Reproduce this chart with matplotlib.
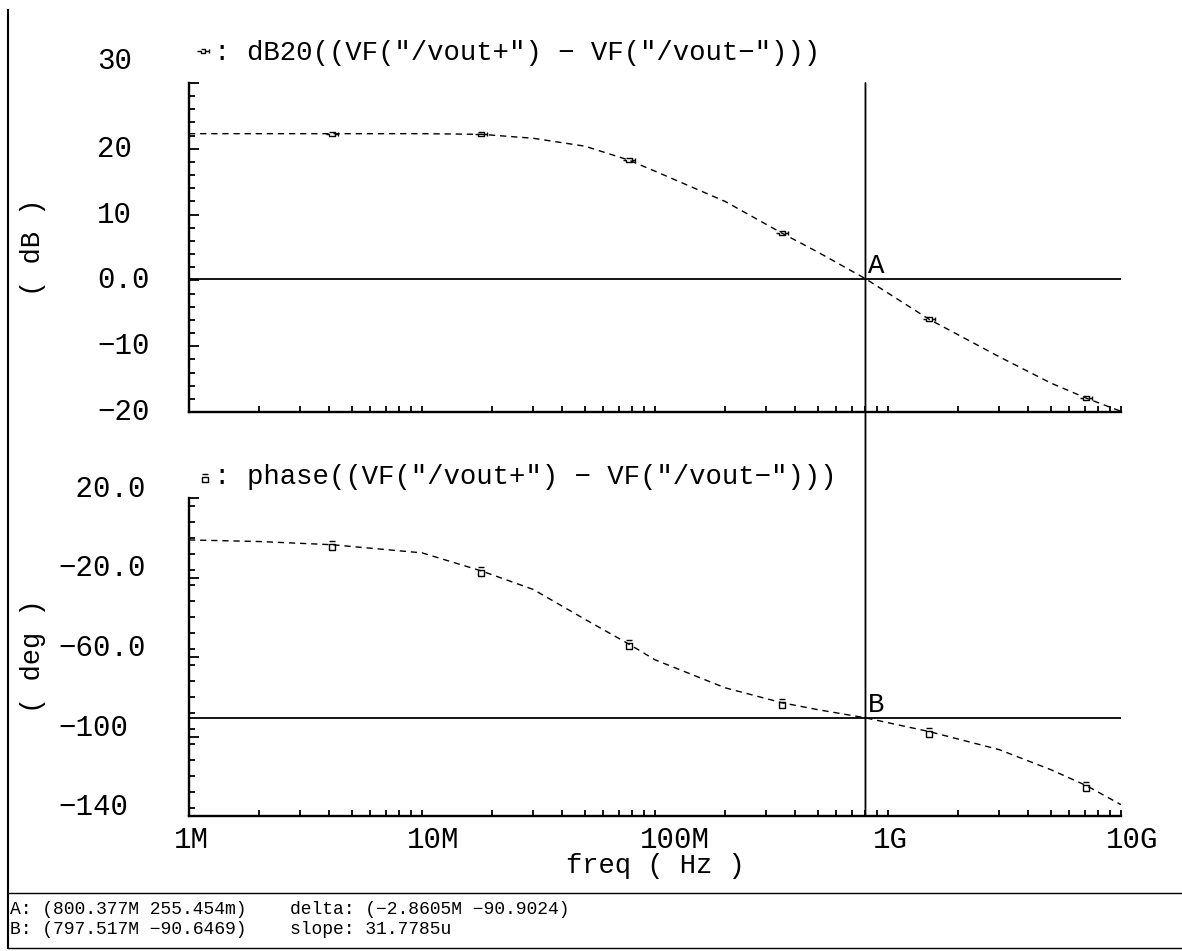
import numpy as np
import matplotlib
matplotlib.use("Agg")
import matplotlib.pyplot as plt
from matplotlib.path import Path
from matplotlib.lines import Line2D
from matplotlib.patches import ConnectionPatch
from matplotlib.ticker import LogLocator, NullFormatter, FixedLocator, MultipleLocator
from matplotlib import transforms

freq = [1e6, 2e6, 4.1e6, 10e6, 18e6, 30e6, 50e6, 77e6, 100e6, 200e6,
        350e6, 500e6, 800e6, 1.5e9, 3e9, 5e9, 7.1e9, 10e9]
mag_db = [22.3, 22.3, 22.3, 22.3, 22.2, 21.6, 20.4, 18.3, 16.6, 12.0,
          7.2, 4.3, 0.26, -5.9, -11.6, -15.6, -17.9, -19.9]
fase = [-1.1, -1.9, -3.5, -7.6, -16.7, -26.0, -41.0, -53.4, -61.4, -75.5,
        -83.0, -86.5, -90.6, -97.5, -106.6, -116.7, -124.7, -134.3]
marcas = [2, 4, 7, 10, 13, 16]   # puntos con simbolo

xticks = [1e6, 1e7, 1e8, 1e9, 1e10]
xtick_labels = ["1M", "10M", "100M", "1G", "10G"]
db_ticks = [30, 20, 10, 0, -10, -20]
db_labels = ["30", "20", "10", "0.0", "-10", "-20"]
deg_ticks = [20, -20, -60, -100, -140]
deg_labels = [" 20.0", "-20.0", "-60.0", "-100", "-140"]

# cursores
cursor_a = (800.377e6, 0.255454)
cursor_b = (797.517e6, -90.6469)
titulo_db = 'dB20((VF("/vout+") - VF("/vout-")))'
titulo_fase = 'phase((VF("/vout+") - VF("/vout-")))'
pie_izq = ["A: (800.377M 255.454m)", "B: (797.517M -90.6469)"]
pie_der = ["delta: (-2.8605M -90.9024)", "slope: 31.7785u"]

W, H = 1182, 951
plt.rcParams['font.family'] = ["Liberation Mono", "DejaVu Sans Mono"]
FS_TIT = 19.7   # titulos
FS_TICK = 21    # numeros de los ejes
FS_LAB = 19.5   # nombres de los ejes


def txt(s):
    # guion como signo menos
    return s.replace("-", "\u2212")


def fx(x):
    return x / W


def fy(y):
    return 1 - y / H


def px(dx, dy):
    # desplazamiento en pixeles (y hacia arriba)
    return transforms.ScaledTranslation(dx / 100, dy / 100, fig.dpi_scale_trans)


# simbolos de cada curva
m_db = Path([(-1.2, 0), (-0.5, 0), (-0.5, 0.45), (0.5, 0.45), (0.5, -0.45), (-0.5, -0.45), (-0.5, 0),
             (0.5, 0), (1.2, 0), (1.2, 0.4), (1.2, -0.4)],
            [1, 2, 1, 2, 2, 2, 2, 1, 2, 1, 2])
m_fase = Path([(-0.5, -0.8), (0.5, -0.8), (0.5, 0.2), (-0.5, 0.2), (-0.5, -0.8), (-0.5, 0.7), (0.5, 0.7)],
              [1, 2, 2, 2, 2, 1, 2])

fig = plt.figure(figsize=(W / 100, H / 100), dpi=100)
ax1 = fig.add_axes([fx(189), fy(412), fx(1121) - fx(189), fy(83) - fy(412)])
ax2 = fig.add_axes([fx(189), fy(816), fx(1121) - fx(189), fy(498) - fy(816)])


def preparar(ax, ylim, ymajor, yminor):
    ax.set_xscale("log")
    ax.set_xlim(1e6, 1e10)
    ax.set_ylim(*ylim)
    for s in ["top", "right"]:
        ax.spines[s].set_visible(False)
    for s in ["left", "bottom"]:
        ax.spines[s].set_linewidth(1.7)
    ax.xaxis.set_major_locator(FixedLocator(xticks))
    ax.xaxis.set_minor_locator(LogLocator(base=10, subs=np.arange(2, 10), numticks=20))
    ax.xaxis.set_major_formatter(NullFormatter())
    ax.xaxis.set_minor_formatter(NullFormatter())
    ax.yaxis.set_major_locator(FixedLocator(ymajor))
    ax.yaxis.set_minor_locator(MultipleLocator(yminor))
    ax.yaxis.set_major_formatter(NullFormatter())
    ax.tick_params(axis="x", which="both", direction="in", length=4, width=1.3, top=False)
    ax.tick_params(axis="y", which="major", direction="in", length=7.5, width=1.3, right=False)
    ax.tick_params(axis="y", which="minor", direction="in", length=4.5, width=1.3, right=False)
    ax.patch.set_alpha(0)


preparar(ax1, (-20, 30), db_ticks, 2)
preparar(ax2, (-140, 20), deg_ticks, 8)

# curvas punteadas
ax1.plot(freq, mag_db, color="black", lw=1.0, dashes=(4.5, 3.5), marker=m_db, markevery=marcas,
         markersize=9, markerfacecolor="none", markeredgecolor="black", markeredgewidth=1.0)
ax2.plot(freq, fase, color="black", lw=1.0, dashes=(4.5, 3.5), marker=m_fase, markevery=marcas,
         markersize=7, markerfacecolor="none", markeredgecolor="black", markeredgewidth=1.0)

# cursores horizontales y vertical compartido
ax1.axhline(cursor_a[1], color="black", lw=1.3)
ax2.axhline(cursor_b[1], color="black", lw=1.3)
cp = ConnectionPatch((cursor_a[0], 30), (cursor_a[0], -140), coordsA="data", coordsB="data",
                     axesA=ax1, axesB=ax2, color="black", lw=1.3)
fig.add_artist(cp)
ax1.text(cursor_a[0], cursor_a[1], "A", fontsize=FS_TIT, ha="left", va="bottom",
         transform=ax1.transData + px(3, 0))
ax2.text(cursor_b[0], cursor_b[1], "B", fontsize=FS_TIT, ha="left", va="bottom",
         transform=ax2.transData + px(3, 0))

# etiquetas de los ejes y
tr1 = transforms.blended_transform_factory(fig.transFigure, ax1.transData)
for v, s in zip(db_ticks, db_labels):
    dy = 22 if v == db_ticks[0] else 0
    ax1.text(fx(97), v, txt(s), fontsize=FS_TICK, ha="left", va="center", transform=tr1 + px(0, dy))
tr2 = transforms.blended_transform_factory(fig.transFigure, ax2.transData)
for v, s in zip(deg_ticks, deg_labels):
    ax2.text(fx(58), v, txt(s), fontsize=FS_TICK, ha="left", va="center", transform=tr2 + px(0, 9))

# etiquetas del eje x (solo grafica inferior)
trx = transforms.blended_transform_factory(ax2.transData, fig.transFigure)
for v, s in zip(xticks, xtick_labels):
    ax2.text(v, fy(840), s, fontsize=FS_TICK, ha="left", va="center", transform=trx + px(-15, 0))
fig.text(fx(655), fy(866), "freq ( Hz )", fontsize=FS_LAB, ha="center", va="center")

fig.text(fx(33), fy(247), "( dB )", fontsize=FS_LAB, rotation=90, ha="center", va="center")
fig.text(fx(33), fy(656), "( deg )", fontsize=FS_LAB, rotation=90, ha="center", va="center")

# titulos con el simbolo de la curva
fig.text(fx(222), fy(53), ":", fontsize=FS_TIT, ha="center", va="center")
fig.text(fx(247), fy(53), txt(titulo_db), fontsize=FS_TIT, ha="left", va="center")
fig.text(fx(222), fy(477), ":", fontsize=FS_TIT, ha="center", va="center")
fig.text(fx(247), fy(477), txt(titulo_fase), fontsize=FS_TIT, ha="left", va="center")
fig.add_artist(Line2D([fx(203)], [fy(51)], marker=m_db, markersize=8, color="black",
                      markerfacecolor="none", markeredgewidth=1.0, transform=fig.transFigure))
fig.add_artist(Line2D([fx(205)], [fy(478)], marker=m_fase, markersize=6, color="black",
                      markerfacecolor="none", markeredgewidth=1.0, transform=fig.transFigure))

# marco y pie con los valores de los cursores
fig.add_artist(Line2D([fx(8), fx(8)], [fy(10), fy(948)], color="black", lw=1.5))
fig.add_artist(Line2D([fx(8), fx(1182)], [fy(893), fy(893)], color="black", lw=1.0))
fig.add_artist(Line2D([fx(8), fx(1182)], [fy(948), fy(948)], color="black", lw=1.0))
for i, s in enumerate(pie_izq):
    fig.text(fx(10), fy(909 + 21 * i), txt(s), fontsize=13, ha="left", va="center")
for i, s in enumerate(pie_der):
    fig.text(fx(290), fy(909 + 21 * i), txt(s), fontsize=13, ha="left", va="center")

fig.savefig("out.png", dpi=100, facecolor="white")
